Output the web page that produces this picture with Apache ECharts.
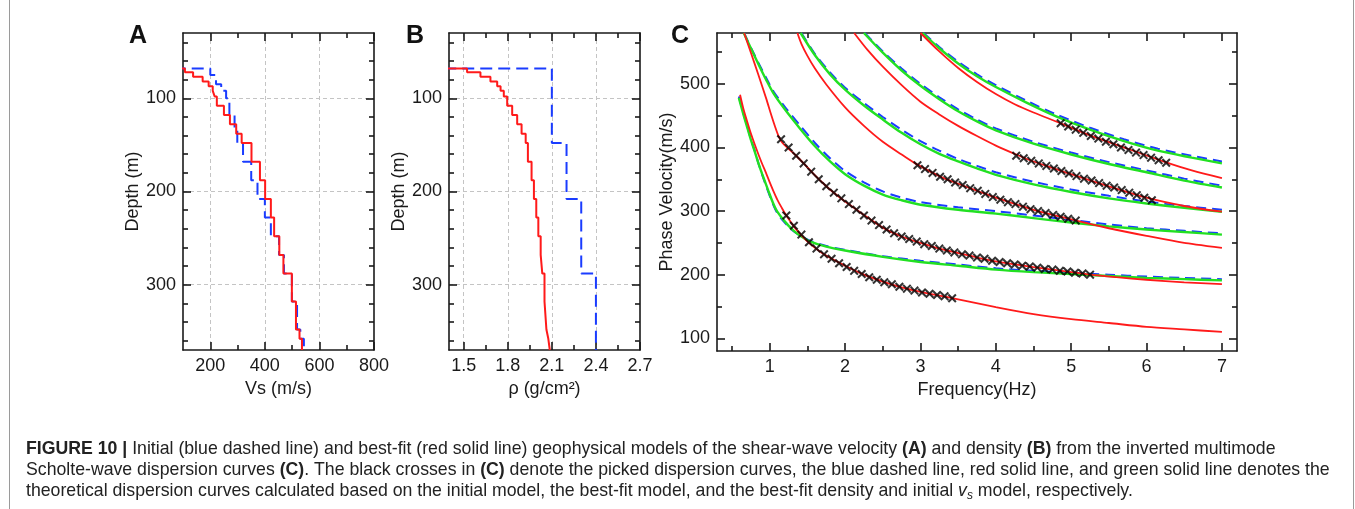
<!DOCTYPE html>
<html><head><meta charset="utf-8">
<script src="https://cdn.jsdelivr.net/npm/echarts@6/dist/echarts.min.js"></script>
<style>html,body{margin:0;padding:0;background:#fff}#c{width:1355px;height:509px}</style>
</head><body><div id="c"></div><script>
// ---------- DATA ----------
// Panel A / B: layered models (layer boundaries in m, one value per layer)
const redDepth = [68,72,77,82,87,92,98,108,118,128,138,148,168,188,208,228,248,268,288,318,348,358,370];
const vsRed    = [107,137,172,194,209,216,224,250,272,295,315,351,382,401,422,434,453,468,499,514,527,536];
const rhoRed   = [1.523,1.614,1.682,1.728,1.751,1.773,1.796,1.83,1.864,1.894,1.922,1.937,1.962,1.978,1.994,2.008,2.024,2.035,2.05,2.063,2.076,2.086];
const vsBlueDepth = [68,75,85,92,100,118,133,148,168,188,208,228,248,268,288,318,348,358,370];
const vsBlue      = [200,221,240,258,270,289,299,320,350,373,400,422,452,470,499,518,530,543];
const rhoBlueDepth = [68,148,208,288,370];
const rhoBlue      = [2.1,2.2,2.3,2.4];
const waterVs = 0, waterRho = 1.0;

// Panel C: theoretical dispersion curves [frequency Hz, phase velocity m/s]
const blue0 = [[0.59,480],[0.65,454],[0.7,434],[0.75,413],[0.8,395],[0.85,375],[0.9,357],[0.95,340],[1.0,324],[1.05,309],[1.1,297],[1.19,283],[1.3,270],[1.41,261],[1.54,253],[1.75,245],[2.0,239],[2.5,229],[3.0,222],[3.5,216],[4.0,210],[4.5,206],[5.0,203],[5.5,200],[6.0,197],[6.5,195],[7.0,193]];
const green0 = [[0.59,478],[0.65,452],[0.7,432],[0.75,412],[0.8,394],[0.85,375],[0.9,358],[0.95,342],[1.0,326],[1.05,311],[1.1,299],[1.19,285],[1.3,271],[1.41,261],[1.54,252],[1.75,244],[2.0,238],[2.5,228],[3.0,220],[3.5,214],[4.0,208],[4.5,204],[5.0,201],[5.5,198],[6.0,195],[6.5,193],[7.0,191]];
const red0 = [[0.606,483],[0.65,461],[0.7,441],[0.75,422],[0.8,405],[0.85,389],[0.9,374],[0.95,360],[1.0,345],[1.05,331],[1.1,318],[1.16,305],[1.22,293],[1.32,276],[1.42,262],[1.52,250],[1.72,232],[2.0,214],[2.25,200],[2.5,189],[2.75,180],[3.0,173],[3.42,163],[4.0,149],[4.5,138],[5.0,130],[5.5,124],[6.0,118],[6.5,114],[7.0,110]];
const blue1 = [[0.66,580],[0.75,557],[0.85,533],[0.95,510],[1.05,488],[1.2,464],[1.4,435],[1.6,407],[1.8,383],[2.0,363],[2.25,345],[2.5,331],[2.75,321],[3.0,314],[3.5,306],[4.0,300],[4.5,293],[5.0,286],[5.5,279],[6.0,273],[6.5,269],[7.0,265]];
const green1 = [[0.655,580],[0.75,556],[0.85,531],[0.95,507],[1.05,485],[1.2,460],[1.4,430],[1.6,402],[1.8,378],[2.0,358],[2.25,340],[2.5,326],[2.75,317],[3.0,310],[3.5,302],[4.0,296],[4.5,289],[5.0,282],[5.5,276],[6.0,271],[6.5,267],[7.0,263]];
const red1 = [[0.66,580],[0.75,549],[0.85,514],[0.95,478],[1.02,451],[1.07,433],[1.12,417],[1.17,407],[1.25,398],[1.35,387],[1.45,375],[1.6,356],[1.75,339],[1.9,324],[2.0,315],[2.25,294],[2.5,274],[2.75,260],[3.0,250],[3.25,241],[3.5,234],[3.75,227],[4.0,221],[4.5,212],[5.0,204],[5.25,200],[5.6,196],[6.0,192],[6.5,188],[7.0,185]];
const blue2 = [[1.42,580],[1.6,547],[1.8,518],[2.0,494],[2.25,470],[2.5,448],[2.75,428],[3.0,410],[3.25,395],[3.5,382],[3.75,371],[4.0,361],[4.5,346],[5.0,334],[5.5,324],[6.0,315],[6.5,308],[7.0,302]];
const green2 = [[1.41,580],[1.6,545],[1.8,515],[2.0,491],[2.25,466],[2.5,444],[2.75,423],[3.0,405],[3.25,390],[3.5,378],[3.75,367],[4.0,357],[4.5,342],[5.0,330],[5.5,320],[6.0,312],[6.5,305],[7.0,299]];
const red2 = [[1.367,580],[1.42,563],[1.5,544],[1.6,524],[1.75,499],[2.0,463],[2.25,434],[2.5,409],[2.75,389],[2.96,373],[3.25,355],[3.5,343],[3.75,332],[4.0,321],[4.5,302],[5.0,287],[5.5,273],[6.0,261],[6.5,250],[7.0,242]];
const blue3 = [[2.26,580],[2.5,551],[2.75,524],[3.0,500],[3.25,479],[3.5,460],[3.75,444],[4.0,430],[4.5,409],[5.0,392],[5.5,377],[6.0,364],[6.5,351],[7.0,340]];
const green3 = [[2.25,580],[2.5,549],[2.75,521],[3.0,497],[3.25,476],[3.5,457],[3.75,441],[4.0,427],[4.5,406],[5.0,389],[5.5,374],[6.0,361],[6.5,348],[7.0,337]];
const red3 = [[2.12,580],[2.3,553],[2.5,527],[2.75,498],[3.0,472],[3.25,452],[3.5,434],[3.75,418],[4.0,403],[4.27,389],[4.5,378],[4.75,368],[5.0,358],[5.5,339],[6.0,321],[6.5,308],[7.0,299]];
const blue4 = [[3.04,580],[3.25,558],[3.5,535],[3.75,515],[4.0,498],[4.4,474],[4.8,452],[5.25,431],[5.7,413],[6.15,398],[6.6,387],[7.0,378]];
const green4 = [[3.03,580],[3.25,556],[3.5,532],[3.75,512],[4.0,495],[4.4,471],[4.8,449],[5.25,428],[5.7,410],[6.15,395],[6.6,384],[7.0,375]];
const red4 = [[3.0,580],[3.25,551],[3.5,525],[3.75,503],[4.0,484],[4.25,468],[4.5,455],[4.86,438],[5.25,419],[5.75,398],[6.25,377],[6.6,364],[7.0,352]];

// Picked dispersion points
const picks0 = [[1.22,293],[1.32,277],[1.42,263],[1.52,251],[1.62,241],[1.72,232],[1.82,225],[1.92,218],[2.02,212],[2.12,206],[2.22,201],[2.32,196],[2.42,192],[2.52,188],[2.62,185],[2.72,181],[2.82,178],[2.92,175],[3.02,172],[3.12,170],[3.22,168],[3.32,166],[3.42,163]];
const picks1 = [[1.15,413],[1.25,400],[1.35,387],[1.45,375],[1.55,362],[1.65,350],[1.75,339],[1.85,329],[1.95,320],[2.05,311],[2.15,302],[2.25,293],[2.35,285],[2.45,278],[2.55,271],[2.65,265],[2.75,260],[2.85,256],[2.95,252],[3.05,248],[3.15,245],[3.25,241],[3.35,238],[3.45,235],[3.55,232],[3.65,230],[3.75,227],[3.85,225],[3.95,222],[4.05,220],[4.15,218],[4.25,216],[4.35,214],[4.45,213],[4.55,211],[4.65,209],[4.75,208],[4.85,206],[4.95,205],[5.05,203],[5.15,202],[5.25,200]];
const picks2 = [[2.96,372],[3.06,366],[3.16,360],[3.26,354],[3.36,350],[3.46,345],[3.56,341],[3.66,336],[3.76,332],[3.86,327],[3.96,322],[4.06,318],[4.16,314],[4.26,311],[4.36,307],[4.46,303],[4.56,300],[4.66,297],[4.76,294],[4.86,291],[4.96,288],[5.06,285]];
const picks3 = [[4.27,387],[4.37,383],[4.47,379],[4.57,375],[4.67,371],[4.77,367],[4.87,363],[4.97,359],[5.07,355],[5.17,351],[5.27,348],[5.37,344],[5.47,340],[5.57,337],[5.67,333],[5.77,329],[5.87,325],[5.97,321],[6.07,317]];
const picks4 = [[4.86,438],[4.96,433],[5.06,428],[5.16,423],[5.26,418],[5.36,414],[5.46,409],[5.56,405],[5.66,400],[5.76,396],[5.86,392],[5.96,388],[6.06,384],[6.16,380],[6.26,376]];

// Tick values
const vsTicks = [200,400,600,800];
const vsMinor = [300,500,700];
const vsGridVals = [200,400,600];
const depthTicks = [100,200,300];
const depthMinor = [40,60,80,120,140,160,180,220,240,260,280,320,340,360];
const rhoTicks = [1.5,1.8,2.1,2.4,2.7];
const rhoMinor = [1.65,1.95,2.25,2.55];
const rhoGridVals = [1.5,1.8,2.1,2.4];
const freqTicks = [1,2,3,4,5,6,7];
const freqMinor = [0.5,1.5,2.5,3.5,4.5,5.5,6.5];
const velTicks = [100,200,300,400,500];
const velMinor = [150,250,350,450,550];

// ---------- BUILD ----------
const FONT = 'Liberation Sans, Arial, Helvetica, sans-serif';
const INK = '#1a1a1a';
const RED = '#ff1a1a', BLUE = '#1a3cff', GREEN = '#22e022';

function stepProfile(bounds, vals, surface) {
  const pts = [[surface, bounds[0]]];
  for (let i = 0; i < vals.length; i++) {
    pts.push([vals[i], bounds[i]]);
    pts.push([vals[i], bounds[i + 1]]);
  }
  return pts;
}

function mkAxis(o) {
  return {
    type: 'value', gridIndex: o.grid, position: o.pos, min: o.min, max: o.max, inverse: !!o.inverse,
    name: o.name || '', nameLocation: 'middle', nameGap: o.nameGap || 0,
    nameTextStyle: {fontFamily: FONT, fontSize: 18, color: INK},
    axisLine: {show: !!o.line, onZero: false, lineStyle: {color: INK, width: 1.6}},
    axisTick: {show: !!o.ticks, inside: true, length: o.tickLen || 0,
               customValues: o.ticks || o.split || [], lineStyle: {color: INK, width: 1.6}},
    axisLabel: {show: !!o.labels, customValues: o.labels || [], margin: 7,
                fontFamily: FONT, fontSize: 18, color: INK, formatter: o.fmt},
    splitLine: {show: !!o.split, lineStyle: {color: '#c4c4c4', type: [4, 3], width: 1}},
    minorTick: {show: false}, minorSplitLine: {show: false}, silent: true
  };
}

const xAxes = [], yAxes = [];
function addAxes(list, dim, grid, c) {
  const s1 = dim === 'x' ? 'bottom' : 'left', s2 = dim === 'x' ? 'top' : 'right';
  const base = {grid, min: c.min, max: c.max, inverse: c.inverse};
  const idx = list.length;
  list.push(mkAxis(Object.assign({}, base, {pos: s1, line: true, ticks: c.major, tickLen: 8, labels: c.labels,
    fmt: c.fmt, name: c.name, nameGap: c.nameGap})));
  list.push(mkAxis(Object.assign({}, base, {pos: s1, ticks: c.minor, tickLen: 5})));
  list.push(mkAxis(Object.assign({}, base, {pos: s2, line: true, ticks: c.major, tickLen: 8})));
  list.push(mkAxis(Object.assign({}, base, {pos: s2, ticks: c.minor, tickLen: 5})));
  if (c.gridVals) list.push(mkAxis(Object.assign({}, base, {pos: s1, split: c.gridVals})));
  return idx;
}

const grids = [
  {left: 183, top: 33, width: 191, height: 317},
  {left: 449, top: 33, width: 191, height: 317},
  {left: 717, top: 33, width: 520, height: 318}
];

// Panel A
const axA = addAxes(xAxes, 'x', 0, {min: 100, max: 800, major: vsTicks, minor: vsMinor, labels: vsTicks, gridVals: vsGridVals, name: 'Vs (m/s)', nameGap: 25});
const ayA = addAxes(yAxes, 'y', 0, {min: 30, max: 370, inverse: true, major: depthTicks, minor: depthMinor, labels: depthTicks, gridVals: depthTicks, name: 'Depth (m)', nameGap: 39});
// Panel B
const axB = addAxes(xAxes, 'x', 1, {min: 1.4, max: 2.7, major: rhoTicks, minor: rhoMinor, labels: rhoTicks, gridVals: rhoGridVals, fmt: v => Number(v).toFixed(1), name: 'ρ (g/cm²)', nameGap: 25});
const ayB = addAxes(yAxes, 'y', 1, {min: 30, max: 370, inverse: true, major: depthTicks, minor: depthMinor, labels: depthTicks, gridVals: depthTicks, name: 'Depth (m)', nameGap: 39});
// Panel C
const axC = addAxes(xAxes, 'x', 2, {min: 0.3, max: 7.2, major: freqTicks, minor: freqMinor, labels: freqTicks, name: 'Frequency(Hz)', nameGap: 25});
const ayC = addAxes(yAxes, 'y', 2, {min: 80, max: 580, major: velTicks, minor: velMinor, labels: velTicks, name: 'Phase Velocity(m/s)', nameGap: 40});

const series = [];
function profile(xa, ya, data, color, dashed) {
  series.push({type: 'line', xAxisIndex: xa, yAxisIndex: ya, data, symbol: 'none', clip: true,
    lineStyle: {color, width: 2, type: dashed ? [12, 6] : 'solid'}, z: dashed ? 3 : 4, animation: false});
}
profile(axA, ayA, stepProfile(vsBlueDepth, vsBlue, waterVs), BLUE, true);
profile(axA, ayA, stepProfile(redDepth, vsRed, waterVs), RED, false);
profile(axB, ayB, stepProfile(rhoBlueDepth, rhoBlue, waterRho), BLUE, true);
profile(axB, ayB, stepProfile(redDepth, rhoRed, waterRho), RED, false);

function curve(data, color, dashed, width, z) {
  series.push({type: 'line', xAxisIndex: axC, yAxisIndex: ayC, data, symbol: 'none', clip: true,
    smooth: 0.3,
    lineStyle: {color, width, type: dashed ? [10, 6] : 'solid'}, z, animation: false});
}
[blue0, blue1, blue2, blue3, blue4].forEach(d => curve(d, BLUE, true, 2, 3));
[green0, green1, green2, green3, green4].forEach(d => curve(d, GREEN, false, 2.4, 4));
[red0, red1, red2, red3, red4].forEach(d => curve(d, RED, false, 1.8, 5));
const XSYM = 'path://M0,1.6L1.6,0L5,3.4L8.4,0L10,1.6L6.6,5L10,8.4L8.4,10L5,6.6L1.6,10L0,8.4L3.4,5Z';
[picks0, picks1, picks2, picks3, picks4].forEach(d => series.push({type: 'scatter', xAxisIndex: axC, yAxisIndex: ayC,
  data: d, symbol: XSYM, symbolSize: 9, itemStyle: {color: '#000'}, z: 6, animation: false}));

const CAP = 17.7;
const capStyle = {fontFamily: FONT, fontSize: CAP, fill: '#222'};
const rich = {
  b: {fontFamily: FONT, fontSize: CAP, fontWeight: 'bold', fill: '#222'},
  it: {fontFamily: FONT, fontSize: CAP, fontStyle: 'italic', fill: '#222'},
  sub: {fontFamily: FONT, fontSize: 12, fontStyle: 'italic', fill: '#222', padding: [9, 0, 0, 0]}
};
function capLine(y, text) {
  return {type: 'text', x: 26, y, silent: true,
    style: Object.assign({}, capStyle, {text, rich, align: 'left', verticalAlign: 'middle'})};
}
function panelLetter(x, t) {
  return {type: 'text', x, y: 36, silent: true,
    style: {text: t, fontFamily: FONT, fontSize: 25, fontWeight: 'bold', fill: '#111', align: 'center', verticalAlign: 'middle'}};
}

const option = {
  animation: false,
  backgroundColor: '#fff',
  grid: grids,
  xAxis: xAxes,
  yAxis: yAxes,
  series,
  graphic: [
    panelLetter(138, 'A'), panelLetter(415, 'B'), panelLetter(680, 'C'),
    {type: 'line', silent: true, shape: {x1: 9.5, y1: 0, x2: 9.5, y2: 509}, style: {stroke: '#9a9a9a', lineWidth: 1}},
    {type: 'line', silent: true, shape: {x1: 1353.5, y1: 0, x2: 1353.5, y2: 509}, style: {stroke: '#9a9a9a', lineWidth: 1}},
    capLine(449, '{b|FIGURE 10 |} Initial (blue dashed line) and best-fit (red solid line) geophysical models of the shear-wave velocity {b|(A)} and density {b|(B)} from the inverted multimode'),
    capLine(470, 'Scholte-wave dispersion curves {b|(C)}. The black crosses in {b|(C)} denote the picked dispersion curves, the blue dashed line, red solid line, and green solid line denotes the'),
    capLine(491, 'theoretical dispersion curves calculated based on the initial model, the best-fit model, and the best-fit density and initial {it|v}{sub|s} model, respectively.')
  ]
};
const chart = echarts.init(document.getElementById('c'));
chart.setOption(option);
</script></body></html>
